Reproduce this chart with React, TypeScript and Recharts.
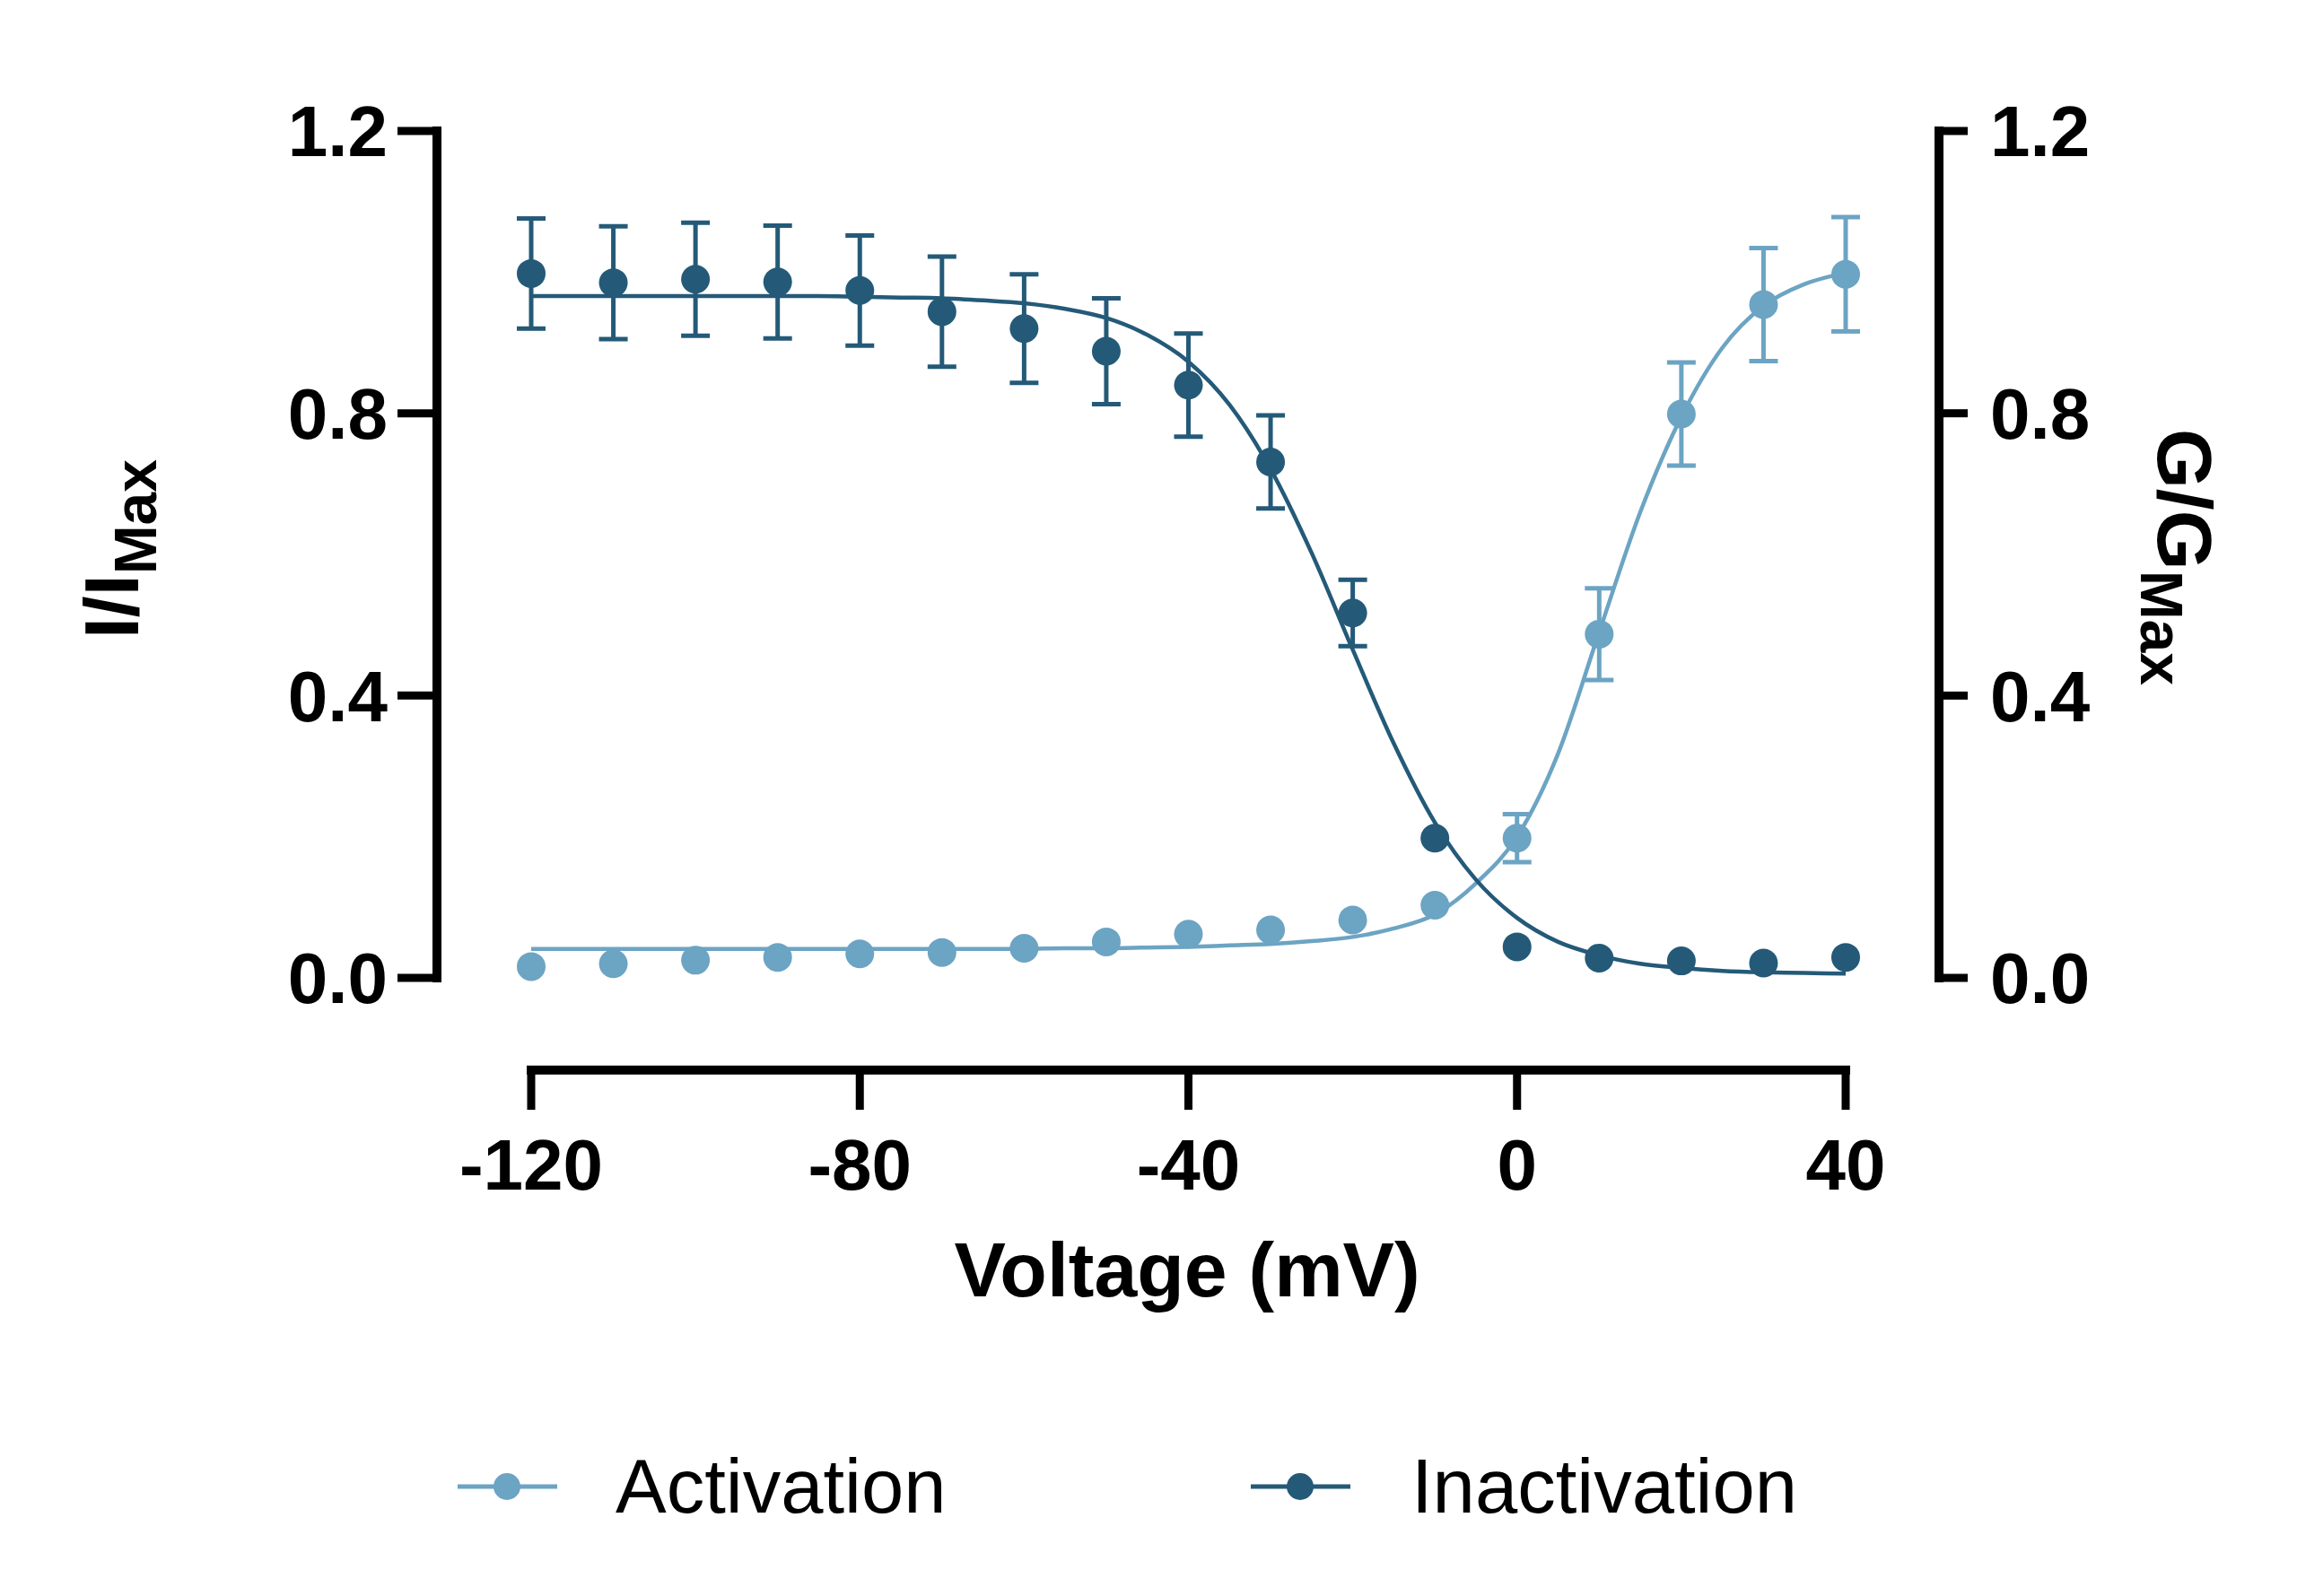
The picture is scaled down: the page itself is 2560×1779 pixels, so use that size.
import React from 'react'
import { ComposedChart, Line, Scatter, ErrorBar, XAxis, YAxis, ReferenceLine, Legend } from 'recharts'

// measured points (mean +/- sem), every 10 mV
const voltages = [-120, -110, -100, -90, -80, -70, -60, -50, -40, -30, -20, -10, 0, 10, 20, 30, 40]
const activationMean = [0.016, 0.020, 0.025, 0.029, 0.034, 0.036, 0.042, 0.051, 0.062, 0.068, 0.082, 0.103, 0.198, 0.487, 0.799, 0.954, 0.997]
const activationSem = [null, null, null, null, null, null, null, null, null, null, null, null, 0.034, 0.065, 0.073, 0.080, 0.081]
const inactivationMean = [0.998, 0.985, 0.990, 0.986, 0.974, 0.944, 0.920, 0.888, 0.840, 0.731, 0.517, 0.198, 0.044, 0.028, 0.024, 0.021, 0.029]
const inactivationSem = [0.078, 0.080, 0.080, 0.080, 0.078, 0.078, 0.077, 0.075, 0.073, 0.066, 0.047, null, null, null, null, null, null]

// Boltzmann fit curves, every 5 mV
const fitVoltages = [-120, -115, -110, -105, -100, -95, -90, -85, -80, -75, -70, -65, -60, -55, -50, -45, -40, -35, -30, -25, -20, -15, -10, -5, 0, 5, 10, 15, 20, 25, 30, 35, 40]
const activationFit = [0.041, 0.041, 0.041, 0.041, 0.041, 0.041, 0.041, 0.041, 0.041, 0.041, 0.041, 0.041, 0.041, 0.042, 0.042, 0.043, 0.044, 0.046, 0.048, 0.052, 0.058, 0.070, 0.090, 0.134, 0.200, 0.318, 0.490, 0.660, 0.795, 0.893, 0.952, 0.983, 0.999]
const inactivationFit = [0.966, 0.966, 0.966, 0.966, 0.966, 0.966, 0.966, 0.966, 0.965, 0.964, 0.963, 0.960, 0.956, 0.948, 0.935, 0.911, 0.873, 0.812, 0.721, 0.602, 0.465, 0.332, 0.220, 0.139, 0.085, 0.051, 0.032, 0.020, 0.014, 0.010, 0.008, 0.007, 0.006]

const xTicks = [-120, -80, -40, 0, 40]
const yTicks = [0, 0.4, 0.8, 1.2]

const seriesNames = ['Activation', 'Inactivation']
const seriesColors = ['#6ca4c3', '#245a78']

const activationPoints = voltages.map((v, i) => ({ v, val: activationMean[i], err: activationSem[i] }))
const inactivationPoints = voltages.map((v, i) => ({ v, val: inactivationMean[i], err: inactivationSem[i] }))
const activationCurve = fitVoltages.map((v, i) => ({ v, val: activationFit[i] }))
const inactivationCurve = fitVoltages.map((v, i) => ({ v, val: inactivationFit[i] }))

const FONT = '"Liberation Sans", Arial, Helvetica, sans-serif'
const W = 2544
const H = 1763

function XTick({ x, y, payload }: any) {
  return (
    <g>
      <line x1={x} x2={x} y1={y + 100} y2={y + 147} stroke="#000" strokeWidth={9} />
      <text x={x} y={y + 236} textAnchor="middle" fontFamily={FONT} fontWeight={700} fontSize={80} fill="#000">
        {payload.value}
      </text>
    </g>
  )
}

function LeftTitle() {
  return (
    <text transform="rotate(-90, 146, 604)" x={146} y={604} textAnchor="middle"
      fontFamily={FONT} fontWeight={700} fontSize={86} fill="#000">
      I/I<tspan fontSize={66} dy={20}>Max</tspan>
    </text>
  )
}

function RightTitle() {
  return (
    <text transform="rotate(90, 2397, 613)" x={2397} y={613} textAnchor="middle"
      fontFamily={FONT} fontWeight={700} fontSize={86} fill="#000">
      G/G<tspan fontSize={66} dy={19}>Max</tspan>
    </text>
  )
}

function XTitle() {
  return (
    <text x={1315} y={1437} textAnchor="middle" fontFamily={FONT} fontWeight={700} fontSize={86} fill="#000">
      Voltage (mV)
    </text>
  )
}

function LegendContent() {
  const slots = [{ x: 502, tx: 678 }, { x: 1386, tx: 1565 }]
  return (
    <svg width={W} height={120}>
      {seriesNames.map((name, i) => (
        <g key={name}>
          <line x1={slots[i].x} x2={slots[i].x + 111} y1={59} y2={59} stroke={seriesColors[i]} strokeWidth={5} />
          <circle cx={slots[i].x + 55} cy={59} r={15} fill={seriesColors[i]} />
          <text x={slots[i].tx} y={88} fontFamily={FONT} fontSize={85} fill="#000">{name}</text>
        </g>
      ))}
    </svg>
  )
}

const dot = (color: string) => (p: any) => <circle cx={p.cx} cy={p.cy} r={16} fill={color} />

export default function App() {
  const tickStyle = { fontFamily: FONT, fontWeight: 700, fontSize: 80, fill: '#000' }
  const axisLine = { stroke: '#000', strokeWidth: 10, strokeLinecap: 'square' as const }
  const tickLine = { stroke: '#000', strokeWidth: 9 }
  return (
    <div style={{ width: W, height: H, background: '#fff' }}>
      <ComposedChart width={W} height={H} margin={{ top: 138, right: 0, bottom: 381, left: 0 }}>
        <XAxis
          dataKey="v"
          type="number"
          domain={[-120, 40]}
          ticks={xTicks}
          interval={0}
          padding={{ left: 105, right: 104 }}
          axisLine={false}
          tickLine={false}
          tickSize={0}
          tickMargin={0}
          height={300}
          tick={<XTick />}
          label={<XTitle />}
        />
        <YAxis
          yAxisId="left"
          type="number"
          domain={[0, 1.2]}
          ticks={yTicks}
          interval={0}
          width={479}
          tickSize={44}
          tickMargin={11}
          tickFormatter={(v: number) => v.toFixed(1)}
          tick={tickStyle}
          axisLine={axisLine}
          tickLine={tickLine}
          label={<LeftTitle />}
        />
        <YAxis
          yAxisId="right"
          orientation="right"
          type="number"
          domain={[0, 1.2]}
          ticks={yTicks}
          interval={0}
          width={391}
          tickSize={32}
          tickMargin={25}
          tickFormatter={(v: number) => v.toFixed(1)}
          tick={tickStyle}
          axisLine={axisLine}
          tickLine={tickLine}
          label={<RightTitle />}
        />
        <ReferenceLine
          yAxisId="left"
          segment={[{ x: -120, y: -0.1305 }, { x: 40, y: -0.1305 }]}
          stroke="#000"
          strokeWidth={10}
          strokeLinecap="square"
          ifOverflow="visible"
        />
        <Line yAxisId="right" data={activationCurve} dataKey="val" type="monotone" stroke={seriesColors[0]}
          strokeWidth={4.5} dot={false} activeDot={false} isAnimationActive={false} legendType="none" />
        <Line yAxisId="left" data={inactivationCurve} dataKey="val" type="monotone" stroke={seriesColors[1]}
          strokeWidth={4.5} dot={false} activeDot={false} isAnimationActive={false} legendType="none" />
        <Scatter yAxisId="right" name={seriesNames[0]} data={activationPoints} dataKey="val"
          fill={seriesColors[0]} shape={dot(seriesColors[0])} isAnimationActive={false}>
          <ErrorBar dataKey="err" direction="y" width={16} strokeWidth={5} stroke={seriesColors[0]} />
        </Scatter>
        <Scatter yAxisId="left" name={seriesNames[1]} data={inactivationPoints} dataKey="val"
          fill={seriesColors[1]} shape={dot(seriesColors[1])} isAnimationActive={false}>
          <ErrorBar dataKey="err" direction="y" width={16} strokeWidth={5} stroke={seriesColors[1]} />
        </Scatter>
        <Legend
          layout="horizontal"
          verticalAlign="middle"
          align="center"
          wrapperStyle={{ top: 1590, left: 0, width: W, height: 120 }}
          content={() => <LegendContent />}
        />
      </ComposedChart>
    </div>
  )
}
